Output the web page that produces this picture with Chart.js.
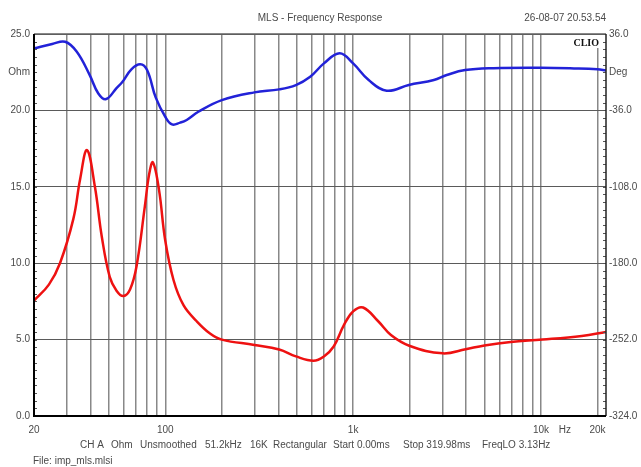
<!DOCTYPE html>
<html>
<head>
<meta charset="utf-8">
<title>MLS - Frequency Response</title>
<script src="https://cdn.jsdelivr.net/npm/chart.js@4.4.0/dist/chart.umd.min.js"></script>
<style>
  html, body { margin: 0; padding: 0; background: #fff; }
  canvas { display: block; }
</style>
</head>
<body>
<canvas id="impChart" width="641" height="467"></canvas>
<script>
// impedance magnitude (Ohm, left axis)
const impFreq = [20, 24, 27.5, 32.4, 35.2, 38.3, 42.2, 45.9, 50.6, 55, 59.8, 65, 70.3, 77.8, 82, 85.9, 92.6, 99.9, 110.6, 125, 147, 173, 200, 298, 404, 496, 615, 699, 788, 893, 1000, 1130, 1360, 1590, 1990, 3000, 3970, 5000, 6900, 10200, 16500, 22200];
const impOhm  = [7.55, 8.6, 10.0, 12.9, 15.5, 17.4, 15.0, 11.75, 9.1, 8.2, 7.85, 8.3, 9.8, 13.7, 15.8, 16.6, 14.8, 11.5, 8.9, 7.25, 6.2, 5.4, 5.0, 4.65, 4.35, 3.9, 3.62, 3.9, 4.55, 5.95, 6.85, 7.1, 6.2, 5.3, 4.6, 4.1, 4.37, 4.62, 4.85, 5.0, 5.24, 5.5];

// phase (Deg, right axis)
const phaseFreq = [20, 25, 29.3, 33.8, 39.6, 44, 48.4, 55, 59.2, 66, 73.6, 80, 89, 100, 108.6, 120, 130, 150, 200, 298, 404, 496, 591, 699, 848, 1000, 1210, 1510, 1980, 2690, 3150, 3950, 5600, 10000, 15000, 20000, 22200];
const phaseDeg  = [22.5, 26.6, 28.7, 19.3, -2.7, -20, -25.3, -15, -9, 2.7, 7.4, 2, -24, -42, -49.2, -47.5, -45, -37.3, -26.3, -19, -16.2, -12.1, -4.3, 8.3, 17.8, 8.3, -7.4, -17.5, -12, -7.4, -2.7, 2, 3.8, 4.2, 3.6, 2.7, 1.5];

// axes
const xGridValues = [20, 30, 40, 50, 60, 70, 80, 90, 100, 200, 300, 400, 500, 600, 700, 800, 900, 1000, 2000, 3000, 4000, 5000, 6000, 7000, 8000, 9000, 10000, 13400, 20000];
const xLabelValues = [20, 100, 1000, 10000, 13400, 20000];
const xLabelText = ['20', '100', '1k', '10k', 'Hz', '20k'];
const ohmTicks = [0, 5, 10, 15, 20, 22.5, 25];
const ohmLabels = ['0.0', '5.0', '10.0', '15.0', '20.0', 'Ohm', '25.0'];
const degTicks = [-324, -252, -180, -108, -36, 0, 36];
const degLabels = ['-324.0', '-252.0', '-180.0', '-108.0', '-36.0', 'Deg', '36.0'];

const FONT = "'Liberation Sans', Arial, sans-serif";
const TXT = '#4a4a4a';

function pts(xs, ys) {
    return xs.map((x, i) => ({ x: x, y: ys[i] }));
}

// titles, frame, minor ticks, footer
const decorPlugin = {
    id: 'decor',
    afterDraw(chart) {
        const ctx = chart.ctx;
        const a = chart.chartArea;
        const yl = chart.scales.yOhm;
        const yr = chart.scales.yDeg;
        ctx.save();

        // minor ticks pointing inward
        ctx.strokeStyle = '#555';
        ctx.lineWidth = 1;
        ctx.beginPath();
        for (let v = 0; v <= 25; v += 0.5) {
            const y = Math.round(yl.getPixelForValue(v)) + 0.5;
            ctx.moveTo(a.left, y);
            ctx.lineTo(a.left + 3, y);
        }
        for (let v = -324; v <= 36.01; v += 7.2) {
            const y = Math.round(yr.getPixelForValue(v)) + 0.5;
            ctx.moveTo(a.right - 3, y);
            ctx.lineTo(a.right, y);
        }
        ctx.stroke();

        // frame
        ctx.strokeStyle = '#606060';
        ctx.lineWidth = 1.5;
        ctx.beginPath();
        ctx.moveTo(a.left, a.top);
        ctx.lineTo(a.right, a.top);
        ctx.stroke();
        ctx.strokeStyle = '#222';
        ctx.beginPath();
        ctx.moveTo(a.right, a.top);
        ctx.lineTo(a.right, a.bottom);
        ctx.stroke();
        ctx.strokeStyle = '#000';
        ctx.lineWidth = 2;
        ctx.beginPath();
        ctx.moveTo(a.left, a.top);
        ctx.lineTo(a.left, a.bottom);
        ctx.lineTo(a.right, a.bottom);
        ctx.stroke();

        // CLIO logo
        ctx.fillStyle = '#fff';
        ctx.fillRect(571, a.top + 1, 30, 13);
        ctx.fillStyle = '#111';
        ctx.font = "bold 10px 'Liberation Serif', serif";
        ctx.textAlign = 'right';
        ctx.textBaseline = 'middle';
        ctx.fillText('CLIO', 599, 43);

        // header
        ctx.fillStyle = TXT;
        ctx.font = '10px ' + FONT;
        ctx.textAlign = 'center';
        ctx.fillText('MLS - Frequency Response', 320, 18);
        ctx.textAlign = 'right';
        ctx.fillText('26-08-07 20.53.54', 606, 18);

        // footer
        ctx.textAlign = 'left';
        const info = [['CH A', 80], ['Ohm', 111], ['Unsmoothed', 140], ['51.2kHz', 205], ['16K', 250],
                      ['Rectangular', 273], ['Start 0.00ms', 333], ['Stop 319.98ms', 403], ['FreqLO 3.13Hz', 482]];
        info.forEach(([t, x]) => ctx.fillText(t, x, 445));
        ctx.fillText('File: imp_mls.mlsi', 33, 461);
        ctx.restore();
    }
};

document.addEventListener('DOMContentLoaded', () => {
    const ctx = document.getElementById('impChart').getContext('2d');
    new Chart(ctx, {
        type: 'line',
        data: {
            datasets: [
                {
                    label: 'Impedance',
                    data: pts(impFreq, impOhm),
                    yAxisID: 'yOhm',
                    borderColor: '#ee1111',
                    borderWidth: 2.5,
                    pointRadius: 0,
                    tension: 0.4,
                    fill: false
                },
                {
                    label: 'Phase',
                    data: pts(phaseFreq, phaseDeg),
                    yAxisID: 'yDeg',
                    borderColor: '#2222d8',
                    borderWidth: 2.5,
                    pointRadius: 0,
                    tension: 0.4,
                    fill: false
                }
            ]
        },
        options: {
            responsive: false,
            animation: false,
            layout: { padding: { top: 34, left: 0, right: 0, bottom: 0 } },
            plugins: {
                legend: { display: false },
                tooltip: { enabled: false },
                title: { display: false }
            },
            scales: {
                x: {
                    type: 'logarithmic',
                    min: 20,
                    max: 22200,
                    afterBuildTicks: (s) => { s.ticks = xGridValues.map(v => ({ value: v })); },
                    afterFit: (s) => { s.height = 51; },
                    border: { display: false },
                    grid: {
                        color: (c) => (c.tick && c.tick.value === 13400) ? 'rgba(0,0,0,0)' : '#888888',
                        lineWidth: 1.5,
                        drawTicks: false
                    },
                    ticks: {
                        autoSkip: false,
                        maxRotation: 0,
                        padding: 8,
                        color: TXT,
                        font: { family: FONT, size: 10 },
                        callback: (v) => {
                            const i = xLabelValues.indexOf(v);
                            return i >= 0 ? xLabelText[i] : '';
                        }
                    }
                },
                yOhm: {
                    type: 'linear',
                    position: 'left',
                    min: 0,
                    max: 25,
                    afterBuildTicks: (s) => { s.ticks = ohmTicks.map(v => ({ value: v })); },
                    afterFit: (s) => { s.width = 34; },
                    border: { display: false },
                    grid: {
                        color: (c) => (c.tick && c.tick.value === 22.5) ? 'rgba(0,0,0,0)' : '#5a5a5a',
                        lineWidth: 1,
                        drawTicks: false
                    },
                    ticks: {
                        padding: 4,
                        color: TXT,
                        font: { family: FONT, size: 10 },
                        callback: (v) => {
                            const i = ohmTicks.indexOf(v);
                            return i >= 0 ? ohmLabels[i] : '';
                        }
                    }
                },
                yDeg: {
                    type: 'linear',
                    position: 'right',
                    min: -324,
                    max: 36,
                    afterBuildTicks: (s) => { s.ticks = degTicks.map(v => ({ value: v })); },
                    afterFit: (s) => { s.width = 35; },
                    border: { display: false },
                    grid: { drawOnChartArea: false, drawTicks: false },
                    ticks: {
                        padding: 3,
                        color: TXT,
                        font: { family: FONT, size: 10 },
                        callback: (v) => {
                            const i = degTicks.indexOf(v);
                            return i >= 0 ? degLabels[i] : '';
                        }
                    }
                }
            }
        },
        plugins: [decorPlugin]
    });
});
</script>
</body>
</html>
